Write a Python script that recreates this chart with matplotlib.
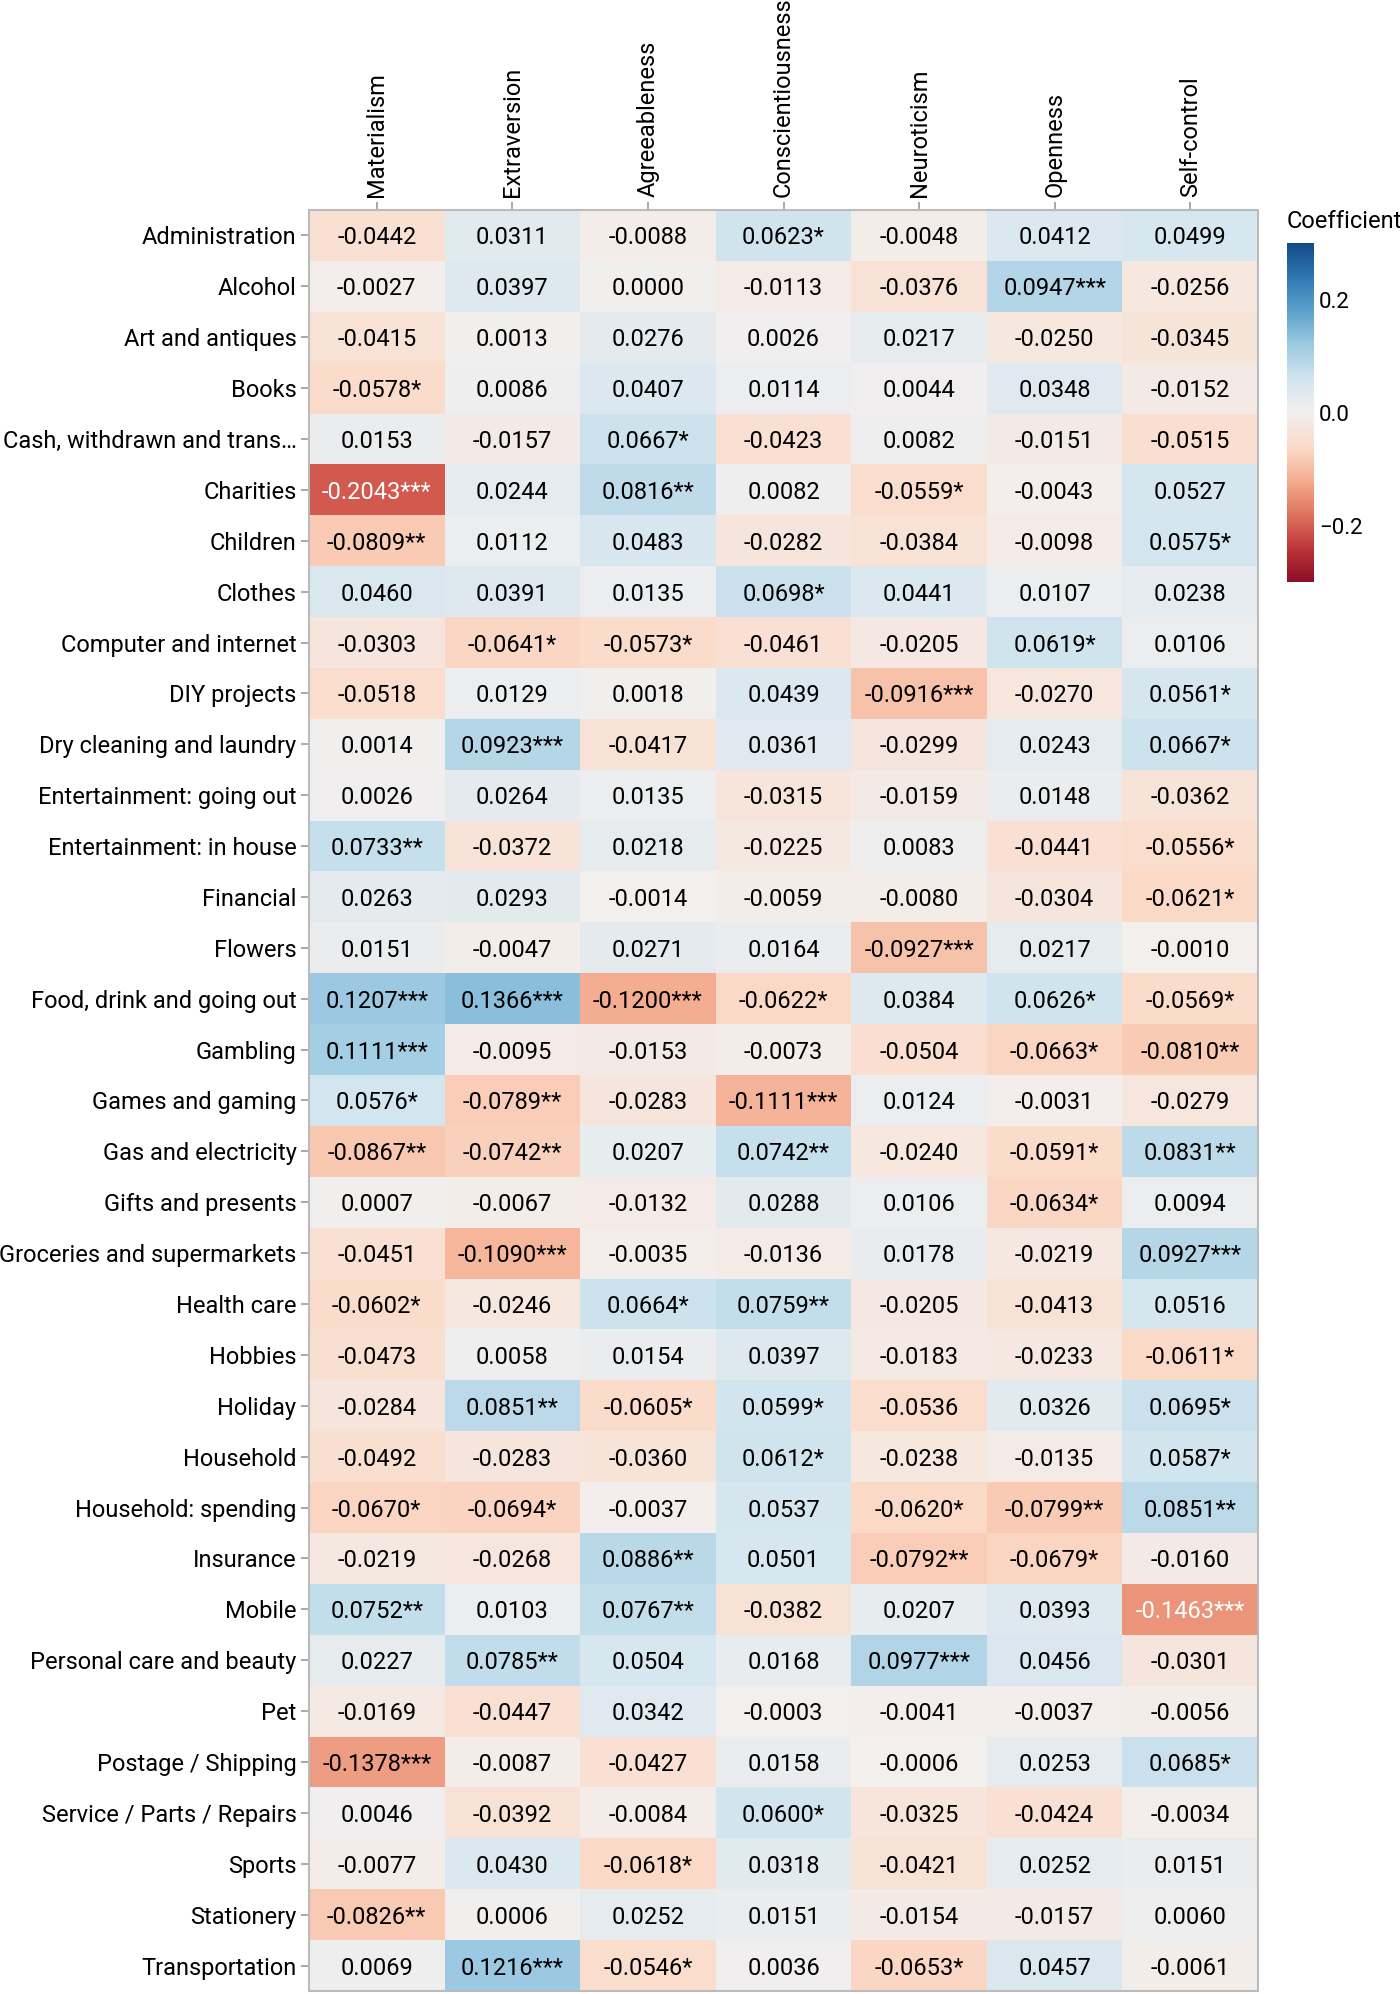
"""Heatmap of regression coefficients: spending categories vs personality traits."""

from matplotlib import pyplot
from matplotlib.colors import LinearSegmentedColormap
import numpy

categories = [
    'Administration', 'Alcohol', 'Art and antiques', 'Books',
    'Cash, withdrawn and trans…', 'Charities', 'Children', 'Clothes',
    'Computer and internet', 'DIY projects', 'Dry cleaning and laundry',
    'Entertainment: going out', 'Entertainment: in house', 'Financial',
    'Flowers', 'Food, drink and going out', 'Gambling', 'Games and gaming',
    'Gas and electricity', 'Gifts and presents', 'Groceries and supermarkets',
    'Health care', 'Hobbies', 'Holiday', 'Household', 'Household: spending',
    'Insurance', 'Mobile', 'Personal care and beauty', 'Pet',
    'Postage / Shipping', 'Service / Parts / Repairs', 'Sports', 'Stationery',
    'Transportation']
traits = ['Materialism', 'Extraversion', 'Agreeableness', 'Conscientiousness',
          'Neuroticism', 'Openness', 'Self-control']

coef = [
    [-0.0442, 0.0311, -0.0088, 0.0623, -0.0048, 0.0412, 0.0499],
    [-0.0027, 0.0397, 0.0000, -0.0113, -0.0376, 0.0947, -0.0256],
    [-0.0415, 0.0013, 0.0276, 0.0026, 0.0217, -0.0250, -0.0345],
    [-0.0578, 0.0086, 0.0407, 0.0114, 0.0044, 0.0348, -0.0152],
    [0.0153, -0.0157, 0.0667, -0.0423, 0.0082, -0.0151, -0.0515],
    [-0.2043, 0.0244, 0.0816, 0.0082, -0.0559, -0.0043, 0.0527],
    [-0.0809, 0.0112, 0.0483, -0.0282, -0.0384, -0.0098, 0.0575],
    [0.0460, 0.0391, 0.0135, 0.0698, 0.0441, 0.0107, 0.0238],
    [-0.0303, -0.0641, -0.0573, -0.0461, -0.0205, 0.0619, 0.0106],
    [-0.0518, 0.0129, 0.0018, 0.0439, -0.0916, -0.0270, 0.0561],
    [0.0014, 0.0923, -0.0417, 0.0361, -0.0299, 0.0243, 0.0667],
    [0.0026, 0.0264, 0.0135, -0.0315, -0.0159, 0.0148, -0.0362],
    [0.0733, -0.0372, 0.0218, -0.0225, 0.0083, -0.0441, -0.0556],
    [0.0263, 0.0293, -0.0014, -0.0059, -0.0080, -0.0304, -0.0621],
    [0.0151, -0.0047, 0.0271, 0.0164, -0.0927, 0.0217, -0.0010],
    [0.1207, 0.1366, -0.1200, -0.0622, 0.0384, 0.0626, -0.0569],
    [0.1111, -0.0095, -0.0153, -0.0073, -0.0504, -0.0663, -0.0810],
    [0.0576, -0.0789, -0.0283, -0.1111, 0.0124, -0.0031, -0.0279],
    [-0.0867, -0.0742, 0.0207, 0.0742, -0.0240, -0.0591, 0.0831],
    [0.0007, -0.0067, -0.0132, 0.0288, 0.0106, -0.0634, 0.0094],
    [-0.0451, -0.1090, -0.0035, -0.0136, 0.0178, -0.0219, 0.0927],
    [-0.0602, -0.0246, 0.0664, 0.0759, -0.0205, -0.0413, 0.0516],
    [-0.0473, 0.0058, 0.0154, 0.0397, -0.0183, -0.0233, -0.0611],
    [-0.0284, 0.0851, -0.0605, 0.0599, -0.0536, 0.0326, 0.0695],
    [-0.0492, -0.0283, -0.0360, 0.0612, -0.0238, -0.0135, 0.0587],
    [-0.0670, -0.0694, -0.0037, 0.0537, -0.0620, -0.0799, 0.0851],
    [-0.0219, -0.0268, 0.0886, 0.0501, -0.0792, -0.0679, -0.0160],
    [0.0752, 0.0103, 0.0767, -0.0382, 0.0207, 0.0393, -0.1463],
    [0.0227, 0.0785, 0.0504, 0.0168, 0.0977, 0.0456, -0.0301],
    [-0.0169, -0.0447, 0.0342, -0.0003, -0.0041, -0.0037, -0.0056],
    [-0.1378, -0.0087, -0.0427, 0.0158, -0.0006, 0.0253, 0.0685],
    [0.0046, -0.0392, -0.0084, 0.0600, -0.0325, -0.0424, -0.0034],
    [-0.0077, 0.0430, -0.0618, 0.0318, -0.0421, 0.0252, 0.0151],
    [-0.0826, 0.0006, 0.0252, 0.0151, -0.0154, -0.0157, 0.0060],
    [0.0069, 0.1216, -0.0546, 0.0036, -0.0653, 0.0457, -0.0061],
]

# Significance level: number of stars.
stars = [
    [0, 0, 0, 1, 0, 0, 0],
    [0, 0, 0, 0, 0, 3, 0],
    [0, 0, 0, 0, 0, 0, 0],
    [1, 0, 0, 0, 0, 0, 0],
    [0, 0, 1, 0, 0, 0, 0],
    [3, 0, 2, 0, 1, 0, 0],
    [2, 0, 0, 0, 0, 0, 1],
    [0, 0, 0, 1, 0, 0, 0],
    [0, 1, 1, 0, 0, 1, 0],
    [0, 0, 0, 0, 3, 0, 1],
    [0, 3, 0, 0, 0, 0, 1],
    [0, 0, 0, 0, 0, 0, 0],
    [2, 0, 0, 0, 0, 0, 1],
    [0, 0, 0, 0, 0, 0, 1],
    [0, 0, 0, 0, 3, 0, 0],
    [3, 3, 3, 1, 0, 1, 1],
    [3, 0, 0, 0, 0, 1, 2],
    [1, 2, 0, 3, 0, 0, 0],
    [2, 2, 0, 2, 0, 1, 2],
    [0, 0, 0, 0, 0, 1, 0],
    [0, 3, 0, 0, 0, 0, 3],
    [1, 0, 1, 2, 0, 0, 0],
    [0, 0, 0, 0, 0, 0, 1],
    [0, 2, 1, 1, 0, 0, 1],
    [0, 0, 0, 1, 0, 0, 1],
    [1, 1, 0, 0, 1, 2, 2],
    [0, 0, 2, 0, 2, 1, 0],
    [2, 0, 2, 0, 0, 0, 3],
    [0, 2, 0, 0, 3, 0, 0],
    [0, 0, 0, 0, 0, 0, 0],
    [3, 0, 0, 0, 0, 0, 1],
    [0, 0, 0, 1, 0, 0, 0],
    [0, 0, 1, 0, 0, 0, 0],
    [2, 0, 0, 0, 0, 0, 0],
    [0, 3, 1, 0, 1, 0, 0],
]

values = numpy.array(coef)
nrows, ncols = values.shape

# Red-blue diverging scheme (as in Vega's "redblue").
redblue = ['#8c0d25', '#bf363a', '#df745e', '#f4ae91', '#fbdbc9', '#f2efee',
           '#d2e5ef', '#9dcae1', '#5da2cb', '#2f78b3', '#134b85']
cmap = LinearSegmentedColormap.from_list('redblue', redblue)

fsize = 17
pyplot.rc('font', family=['Roboto', 'DejaVu Sans'], size=fsize)
fig = pyplot.figure(figsize=(14.0, 19.94), dpi=100)
ax = fig.add_axes([0.2207, 0.0015, 0.6779, 0.8932])

mesh = ax.pcolormesh(values, cmap=cmap, vmin=-0.3, vmax=0.3)
ax.set_xlim(0, ncols)
ax.set_ylim(nrows, 0)

for i in range(nrows):
    for j in range(ncols):
        v = values[i, j]
        text = f'{v:.4f}' + '*' * stars[i][j]
        color = 'white' if abs(v) > 0.14 else 'black'
        ax.text(j + 0.5, i + 0.5, text, ha='center', va='center_baseline',
                color=color, fontsize=fsize)

ax.set_xticks(numpy.arange(ncols) + 0.5)
ax.set_xticklabels(traits, rotation=90)
ax.xaxis.tick_top()
ax.set_yticks(numpy.arange(nrows) + 0.5)
ax.set_yticklabels(categories)
ax.tick_params(axis='both', length=6, width=1.2, color='#999999',
               labelsize=fsize, pad=3)
for spine in ax.spines.values():
    spine.set_color('#bbbbbb')
    spine.set_linewidth(1.5)

# Colorbar.
cax = fig.add_axes([0.919, 0.7081, 0.0193, 0.170])
cbar = fig.colorbar(mesh, cax=cax, ticks=[-0.2, 0.0, 0.2])
cbar.outline.set_visible(False)
cbar.ax.tick_params(length=0, labelsize=16, pad=4)
cbar.ax.set_yticklabels(['\u22120.2', '0.0', '0.2'])
fig.text(0.919, 0.8887, 'Coefficient', ha='left', va='center', fontsize=fsize)

fig.savefig('out.png', dpi=100)
